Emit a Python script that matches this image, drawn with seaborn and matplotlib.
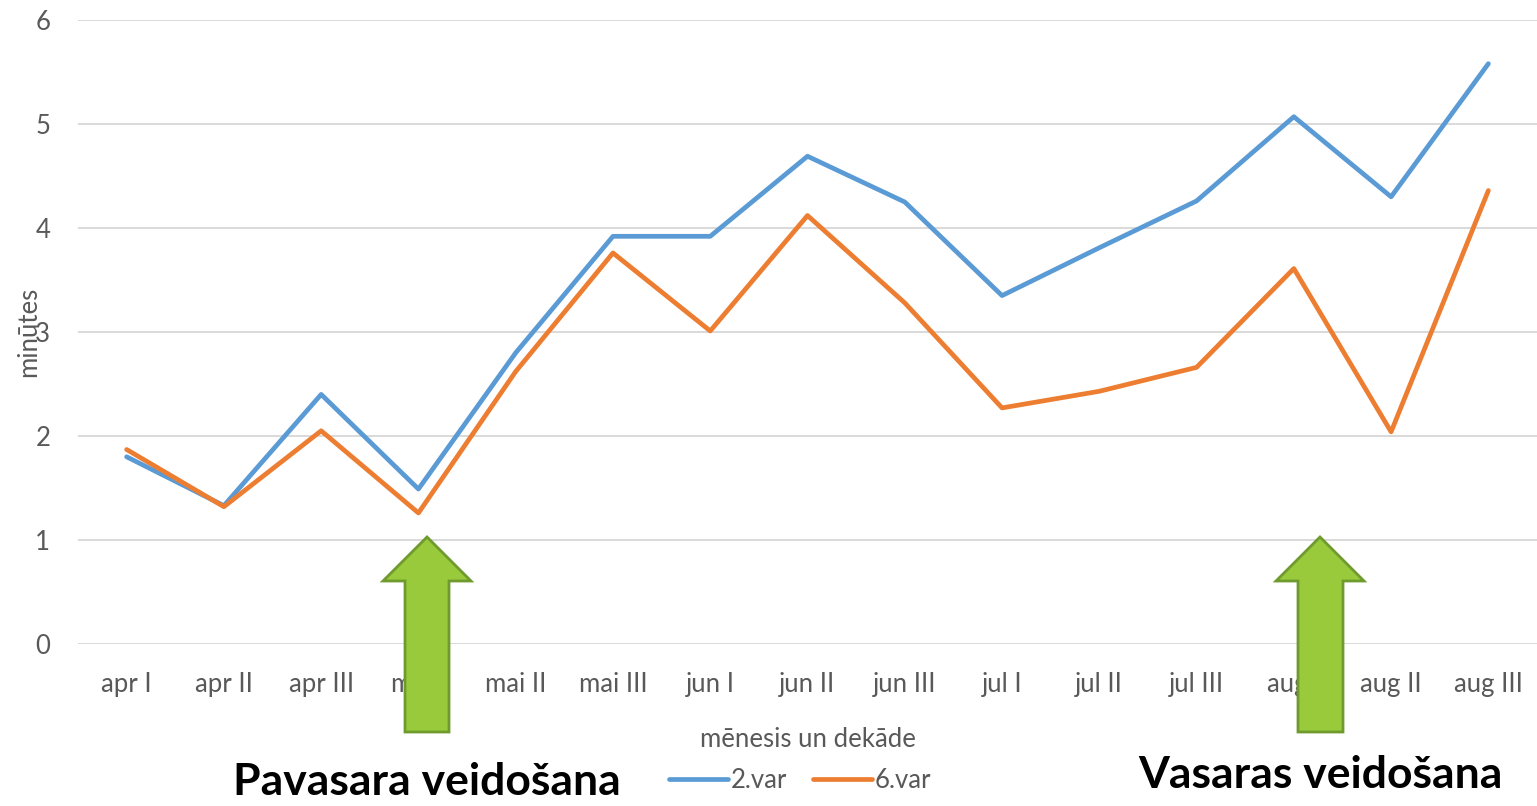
import numpy as np
import pandas as pd
import matplotlib
matplotlib.use("Agg")
import matplotlib.pyplot as plt
import seaborn as sns
from matplotlib.patches import Polygon

## Data
categories = ["apr I", "apr II", "apr III", "mai I", "mai II", "mai III",
              "jun I", "jun II", "jun III", "jul I", "jul II", "jul III",
              "aug I", "aug II", "aug III"]
var2 = [1.80, 1.33, 2.40, 1.49, 2.80, 3.92, 3.92, 4.69, 4.25, 3.35, 3.81, 4.26, 5.07, 4.30, 5.58]
var6 = [1.87, 1.32, 2.05, 1.26, 2.62, 3.76, 3.01, 4.12, 3.28, 2.27, 2.43, 2.66, 3.61, 2.04, 4.36]
series_names = ["2.var", "6.var"]

df = pd.DataFrame({"dekade": categories * 2,
                   "val": var2 + var6,
                   "serie": [series_names[0]] * len(categories) + [series_names[1]] * len(categories)})
df["pos"] = list(range(len(categories))) * 2

sns.set_style("white")
plt.rcParams['font.family'] = ['Lato', 'DejaVu Sans']

W, H = 1537, 806
FS = 18.5
fig = plt.figure(figsize=(W / 100, H / 100), dpi=100)
ax = fig.add_axes([78 / W, 1 - 644 / H, (W - 78) / W, (644 - 20) / H])

sns.lineplot(data=df, x="pos", y="val", hue="serie",
             palette={"2.var": "#5B9BD5", "6.var": "#ED7D31"},
             linewidth=3.4, ax=ax, legend=False,
             solid_capstyle="round", solid_joinstyle="round", zorder=3)

ax.set_xlim(-0.5, len(categories) - 0.5)
ax.set_ylim(0, 6)
ax.set_xticks(range(len(categories)))
ax.set_xticklabels(categories)
ax.set_yticks(range(0, 7))
ax.grid(axis="y", color="#D9D9D9", linewidth=1.4)
ax.grid(axis="x", visible=False)
for s in ax.spines.values():
    s.set_visible(False)
ax.tick_params(axis="both", length=0, labelsize=FS, labelcolor="#595959")
ax.tick_params(axis="x", pad=20)
ax.tick_params(axis="y", pad=20)
ax.set_xlabel("mēnesis un dekāde", fontsize=FS, color="#595959", labelpad=22)
ax.set_ylabel("minūtes", fontsize=FS, color="#595959", labelpad=-4)

# legend
handles = [plt.Line2D([], [], color="#5B9BD5", lw=3.4, solid_capstyle="round"),
           plt.Line2D([], [], color="#ED7D31", lw=3.4, solid_capstyle="round")]
leg = fig.legend(handles, series_names, loc="center", bbox_to_anchor=(800 / W, 1 - 780 / H),
                 ncol=2, frameon=False, fontsize=FS, handlelength=2.3,
                 handletextpad=0.1, columnspacing=1.0)
for t in leg.get_texts():
    t.set_color("#595959")

# green arrows
def up_arrow(cx_tip, shaft_l, shaft_r, head_l, head_r):
    pts = [(cx_tip, 537), (head_r, 581), (shaft_r, 581), (shaft_r, 732),
           (shaft_l, 732), (shaft_l, 581), (head_l, 581)]
    pts = [(x / W, 1 - y / H) for x, y in pts]
    fig.patches.append(Polygon(pts, closed=True, transform=fig.transFigure,
                               facecolor="#99CA3C", edgecolor="#6F9A2E", lw=2, zorder=10))

up_arrow(427, 405, 449, 383, 471)
up_arrow(1320, 1298, 1343, 1276, 1364)

fig.text(427 / W, 1 - 782 / H, "Pavasara veidošana", fontsize=32, fontweight="bold",
         ha="center", va="center", color="black")
fig.text(1320 / W, 1 - 775 / H, "Vasaras veidošana", fontsize=32, fontweight="bold",
         ha="center", va="center", color="black")

fig.savefig("out.png", dpi=100)
